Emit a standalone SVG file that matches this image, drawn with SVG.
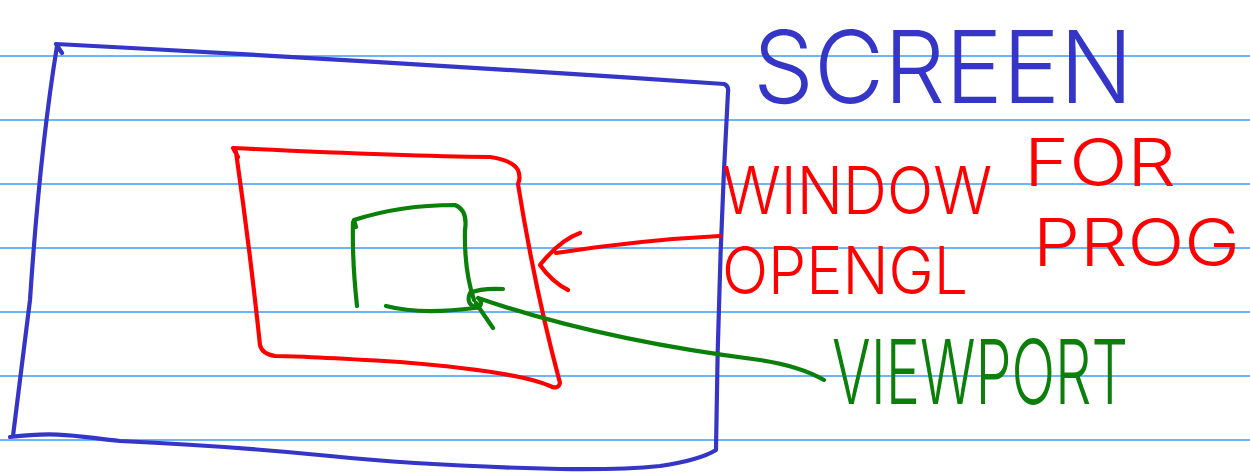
<svg xmlns="http://www.w3.org/2000/svg" width="1250" height="476" viewBox="0 0 1250 476">
<style>
.rule{stroke:#3d9cf5;stroke-width:1.3}
.ink{fill:none;stroke-width:4.2;stroke-linecap:round;stroke-linejoin:round}
.blue{stroke:#3535c8}
.red{stroke:#ff0000}
.green{stroke:#0a7f0a}
.hand{font-family:Inter,"Liberation Sans",Arial,sans-serif;font-weight:300}
</style>
<rect width="1250" height="476" fill="#ffffff"/>
<g id="ruling">
<line class="rule" x1="0" y1="56" x2="1250" y2="56"/>
<line class="rule" x1="0" y1="120" x2="1250" y2="120"/>
<line class="rule" x1="0" y1="184" x2="1250" y2="184"/>
<line class="rule" x1="0" y1="248" x2="1250" y2="248"/>
<line class="rule" x1="0" y1="312" x2="1250" y2="312"/>
<line class="rule" x1="0" y1="376" x2="1250" y2="376"/>
<line class="rule" x1="0" y1="440" x2="1250" y2="440"/>
</g>
<g id="screen">
<path class="ink blue" d="M62,53 L56,44 Q400,62 724,84 Q729,86 728,92 Q718,270 716,450 Q700,460 660,466 Q620,470 560,469 Q430,466 330,456 Q230,446 120,441 C80,437 60,431 10,437 M57,46 Q40,150 30,300 Q20,380 13,436"/>
<text class="hand" x="753" y="103" font-size="100" textLength="380" lengthAdjust="spacingAndGlyphs" fill="#3535c8">SCREEN</text>
</g>
<g id="window">
<path class="ink red" d="M238,157 L233,148 Q400,156 490,157 Q512,160 518,170 Q521,178 518,184 Q535,290 560,383 Q558,390 550,386 Q520,372 400,362 Q300,356 275,356 Q262,354 260,345 Q250,250 236,152"/>
<text class="hand" font-size="66" fill="#ff0000"><tspan x="722" y="214" textLength="270" lengthAdjust="spacingAndGlyphs">WINDOW</tspan><tspan x="1024" y="186" textLength="152" lengthAdjust="spacingAndGlyphs">FOR</tspan></text>
<text class="hand" font-size="66" fill="#ff0000"><tspan x="722" y="294" textLength="246" lengthAdjust="spacingAndGlyphs">OPENGL</tspan><tspan x="1033" y="266" textLength="207" lengthAdjust="spacingAndGlyphs">PROG</tspan></text>
</g>
<g id="viewport">
<path class="ink green" d="M356,227 L354,220 Q400,205 455,205 Q468,210 465,230 Q464,270 474,300 M353,222 Q352,260 357,306 M386,306 Q420,315 475,308"/>
<text class="hand" font-size="62" fill="#0a7f0a" transform="scale(1,1.45)" x="832" y="278.6" textLength="296" lengthAdjust="spacingAndGlyphs">VIEWPORT</text>
</g>
<g id="connectors">
<path class="ink red" d="M720,236 Q640,240 556,253 M580,233 Q560,240 540,265 Q552,282 568,290"/>
<path class="ink green" d="M503,289 Q480,288 470,293 Q465,305 478,308 Q484,303 478,298 Q600,340 760,360 Q800,366 824,380 M476,303 Q484,315 493,328"/>
</g>
</svg>
